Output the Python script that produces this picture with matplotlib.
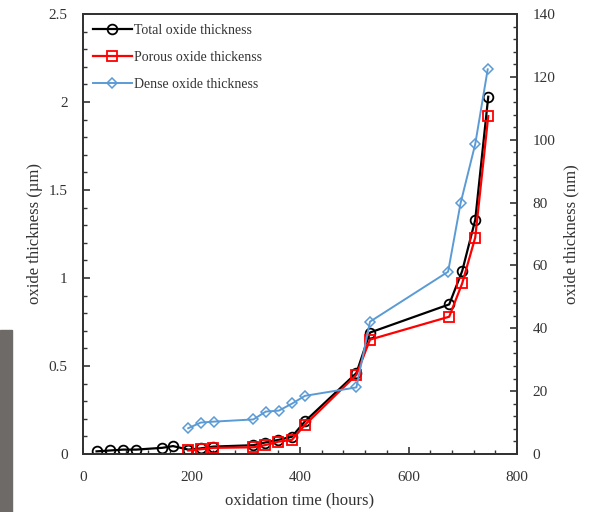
import matplotlib
matplotlib.use("Agg")
import matplotlib.pyplot as plt
from matplotlib.patches import Rectangle
from matplotlib.ticker import MultipleLocator

plt.rcParams['font.family'] = ['Liberation Serif', 'DejaVu Serif']

# total oxide thickness (um)
total_t = [25, 50, 74, 98, 146, 166, 194, 217, 240, 314, 335, 360, 385, 409, 504, 529, 675, 699, 723, 747]
total_y = [0.015, 0.02, 0.025, 0.025, 0.035, 0.045, 0.025, 0.032, 0.042, 0.05, 0.065, 0.08, 0.098, 0.185, 0.46, 0.69, 0.85, 1.04, 1.33, 2.03]

# porous oxide thickness (um)
porous_t = [194, 217, 240, 314, 335, 360, 385, 409, 504, 529, 675, 699, 723, 747]
porous_y = [0.02, 0.027, 0.035, 0.038, 0.05, 0.07, 0.08, 0.165, 0.45, 0.65, 0.78, 0.97, 1.23, 1.92]

# dense oxide thickness (nm), right axis
dense_t = [194, 217, 241, 314, 337, 361, 386, 409, 504, 529, 673, 696, 723, 746]
dense_y = [8.2, 10.0, 10.3, 11.0, 13.5, 13.8, 16.1, 18.5, 21.2, 42.1, 58.0, 79.8, 98.6, 122.4]

fig = plt.figure(figsize=(5.91, 5.12), dpi=100)
fig.patches.append(Rectangle((0, 0), 12 / 591, 182 / 512, transform=fig.transFigure,
                             color='#6e6a68', zorder=0))
ax = fig.add_axes([83 / 591, 58 / 512, 434 / 591, 440 / 512])
ax2 = ax.twinx()

l1, = ax.plot(total_t, total_y, color='black', lw=1.6, marker='o', ms=7,
              mfc='none', mew=1.3, label='Total oxide thickness', zorder=3)
l2, = ax.plot(porous_t, porous_y, color='red', lw=1.6, marker='s', ms=6.5,
              mfc='none', mew=1.3, label='Porous oxide thickenss', zorder=4)
l3, = ax2.plot(dense_t, dense_y, color='#5b9bd5', lw=1.4, marker='D', ms=5,
               mfc='none', mew=1.1, label='Dense oxide thickness')

ax.set_xlim(0, 800)
ax.set_ylim(0, 2.5)
ax2.set_ylim(0, 140)
ax.xaxis.set_major_locator(MultipleLocator(200))
ax.xaxis.set_minor_locator(MultipleLocator(40))
ax.yaxis.set_major_locator(MultipleLocator(0.5))
ax.yaxis.set_minor_locator(MultipleLocator(0.1))
ax2.yaxis.set_major_locator(MultipleLocator(20))
ax2.yaxis.set_minor_locator(MultipleLocator(4))

ax.set_yticks([0, 0.5, 1, 1.5, 2, 2.5])
ax.set_yticklabels(['0', '0.5', '1', '1.5', '2', '2.5'])

for a in (ax, ax2):
    a.tick_params(which='both', direction='in', labelsize=11, colors='#333333', pad=11)
    a.tick_params(which='major', length=5, width=1.2)
    a.tick_params(which='minor', length=3, width=1.0)
    for s in a.spines.values():
        s.set_linewidth(1.3)
        s.set_color('#333333')
ax.tick_params(axis='x', which='both', top=False, pad=12)

ax.set_xlabel('oxidation time (hours)', fontsize=12, color='#333333', labelpad=6)
ax.set_ylabel('oxide thickness (µm)', fontsize=12, color='#333333', labelpad=4)
ax2.set_ylabel('oxide thickness (nm)', fontsize=12, color='#333333', labelpad=6)

ax.legend(handles=[l1, l2, l3], loc='upper left', frameon=False, fontsize=10,
          handlelength=2.8, handletextpad=0.2, labelspacing=1.0,
          borderaxespad=0.3, labelcolor='#333333')

fig.savefig('out.png', dpi=100)
